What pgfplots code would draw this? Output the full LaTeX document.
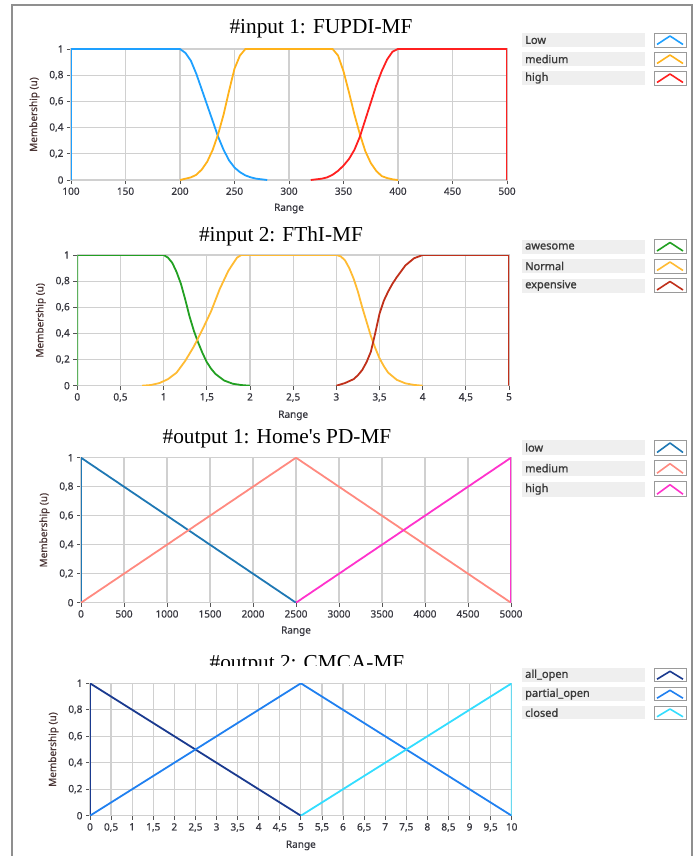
\documentclass[border=0pt]{standalone}
\usepackage{fontspec}
\setmainfont{Liberation Serif}
\newfontfamily\uifont{Noto Sans}[FakeBold=0.6]
\newfontfamily\legfont{Noto Sans}[FakeBold=1.2]
\usepackage{pgfplots}
\pgfplotsset{compat=1.18}
\definecolor{gridc}{HTML}{D0D0D0}
\definecolor{framec}{HTML}{8F8F8F}
\definecolor{tickc}{HTML}{555555}
\definecolor{labc}{HTML}{383840}
\definecolor{ylabc}{HTML}{4A3535}
\definecolor{legbg}{HTML}{EFEFEF}
\definecolor{legtxt}{HTML}{3A3A3A}
\definecolor{iconbd}{HTML}{9A9A9A}
\definecolor{aLow}{HTML}{1EA0FF}
\definecolor{aMed}{HTML}{FFB21A}
\definecolor{aHigh}{HTML}{FF2020}
\definecolor{bAwe}{HTML}{22A022}
\definecolor{bNor}{HTML}{FFBB33}
\definecolor{bExp}{HTML}{C0301A}
\definecolor{cLow}{HTML}{1F78B4}
\definecolor{cMed}{HTML}{FF8A80}
\definecolor{cHigh}{HTML}{FF33CC}
\definecolor{dAll}{HTML}{1A3A8F}
\definecolor{dPar}{HTML}{2080F0}
\definecolor{dClo}{HTML}{33DDFF}
\pgfplotsset{
  mf/.style={
    scale only axis, anchor=south west,
    ymin=0, ymax=1, ytick={0,0.2,0.4,0.6,0.8,1},
    grid=major, major grid style={draw=gridc, line width=1.2pt},
    axis line style={draw=gridc, line width=1.2pt},
    tick align=outside, major tick length=4pt,
    xtick pos=left, ytick pos=left,
    tick style={draw=tickc, line width=0.8pt},
    scaled ticks=false,
    /pgf/number format/assume math mode=true,
    /pgf/number format/use comma,
    /pgf/number format/fixed,
    /pgf/number format/precision=1,
    /pgf/number format/1000 sep={},
    xticklabel style={font=\uifont\fontsize{10}{11}\selectfont, text=labc},
    yticklabel style={font=\uifont\fontsize{10}{11}\selectfont, text=labc},
    xlabel={Range}, ylabel={Membership (u)},
    xlabel style={font=\uifont\fontsize{10}{11}\selectfont, text=labc, yshift=-2pt},
    ylabel style={font=\uifont\fontsize{10}{11}\selectfont, text=ylabc, yshift=3pt},
    every axis plot/.append style={line width=1.8pt, line join=round},
  }
}
\newcommand\legrow[4]{%
  \pgfmathsetmacro\lm{-(#1+#2)/2}%
  \pgfmathsetmacro\lt{-#1}\pgfmathsetmacro\lb{-#2}%
  \pgfmathsetmacro\ct{-#1-3}\pgfmathsetmacro\cb{-#2+2.5}%
  \fill[legbg] (522pt,\lt pt) rectangle (645pt,\lb pt);
  \node[anchor=west, inner sep=0pt, text=legtxt, font=\legfont\fontsize{11}{12}\selectfont] at (525pt,\lm pt) {#3};
  \draw[iconbd, line width=0.9pt, fill=white] (654pt,\lt pt) rectangle (686pt,\lb pt);
  \draw[#4, line width=1.6pt, line join=round] (657pt,\cb pt) -- (670pt,\ct pt) -- (683pt,\cb pt);
}
\begin{document}
\begin{tikzpicture}
\useasboundingbox (0,0) rectangle (697pt,-856pt);
\draw[framec, line width=2pt] (12pt,-856pt) -- (12pt,-5pt) -- (692pt,-5pt) -- (692pt,-856pt);

% ---------- Panel 1
\node[anchor=base, font=\fontsize{21.3}{23}\selectfont, inner sep=0pt] at (321pt,-33.5pt) {\#input 1: FUPDI-MF};
\begin{axis}[mf, at={(71pt,-180pt)}, width=436pt, height=131pt,
  xmin=100, xmax=500, xtick={100,150,200,250,300,350,400,450,500}]
\addplot[aLow] coordinates {(100,0) (100,1) (200,1) (205,0.97) (210,0.91) (215,0.81) (220,0.69) (225,0.57) (230,0.45) (235,0.33) (240,0.23) (245,0.15) (250,0.095) (255,0.06) (260,0.035) (265,0.02) (270,0.01) (280,0)};
\addplot[aMed] coordinates {(200,0) (205,0.01) (210,0.02) (215,0.04) (220,0.08) (225,0.14) (230,0.23) (235,0.35) (240,0.5) (245,0.68) (250,0.85) (255,0.95) (260,1) (340,1) (345,0.95) (350,0.83) (355,0.67) (360,0.5) (365,0.35) (370,0.22) (375,0.13) (380,0.07) (385,0.03) (390,0.015) (395,0.005) (400,0)};
\addplot[aHigh] coordinates {(320,0) (325,0.005) (330,0.01) (335,0.02) (340,0.04) (345,0.07) (350,0.11) (355,0.16) (360,0.23) (365,0.33) (370,0.46) (375,0.59) (380,0.72) (385,0.83) (390,0.92) (395,0.98) (400,1) (500,1) (500,0)};
\end{axis}
\legrow{33}{47}{Low}{aLow}
\legrow{52}{66}{medium}{aMed}
\legrow{71}{85}{high}{aHigh}

% ---------- Panel 2
\node[anchor=base, font=\fontsize{21.3}{23}\selectfont, inner sep=0pt] at (281pt,-241.7pt) {\#input 2: FThI-MF};
\begin{axis}[mf, at={(77.3pt,-385.7pt)}, width=431.7pt, height=130.7pt,
  xmin=0, xmax=5, xtick={0,0.5,1,1.5,2,2.5,3,3.5,4,4.5,5}]
\addplot[bAwe] coordinates {(0,0) (0,1) (1,1) (1.05,0.98) (1.1,0.94) (1.15,0.87) (1.2,0.78) (1.25,0.66) (1.3,0.53) (1.35,0.42) (1.4,0.33) (1.45,0.25) (1.5,0.18) (1.55,0.13) (1.6,0.09) (1.7,0.04) (1.8,0.015) (1.9,0.005) (2,0)};
\addplot[bNor] coordinates {(0.75,0) (0.85,0.005) (0.95,0.02) (1.05,0.05) (1.15,0.10) (1.25,0.19) (1.35,0.30) (1.45,0.43) (1.55,0.57) (1.65,0.74) (1.75,0.88) (1.85,0.98) (1.9,1) (3,1) (3.05,0.99) (3.1,0.96) (3.15,0.90) (3.2,0.82) (3.25,0.72) (3.3,0.60) (3.35,0.49) (3.4,0.38) (3.45,0.29) (3.5,0.21) (3.55,0.15) (3.6,0.10) (3.7,0.045) (3.8,0.018) (3.9,0.006) (4,0)};
\addplot[bExp] coordinates {(3,0) (3.1,0.02) (3.2,0.05) (3.25,0.08) (3.3,0.12) (3.35,0.18) (3.4,0.26) (3.45,0.40) (3.5,0.55) (3.55,0.65) (3.6,0.72) (3.65,0.78) (3.7,0.83) (3.8,0.92) (3.9,0.975) (4,1) (5,1) (5,0)};
\end{axis}
\legrow{239.5}{253.5}{awesome}{bAwe}
\legrow{259}{273}{Normal}{bNor}
\legrow{278.5}{292.5}{expensive}{bExp}

% ---------- Panel 3
\node[anchor=base, font=\fontsize{21.3}{23}\selectfont, inner sep=0pt] at (277pt,-443.3pt) {\#output 1: Home\textquotesingle s PD-MF};
\begin{axis}[mf, at={(81pt,-602.7pt)}, width=430pt, height=145pt,
  xmin=0, xmax=5000, xtick={0,500,1000,1500,2000,2500,3000,3500,4000,4500,5000}]
\addplot[cLow] coordinates {(0,0) (0,1) (2500,0)};
\addplot[cMed] coordinates {(0,0) (2500,1) (5000,0)};
\addplot[cHigh] coordinates {(2500,0) (5000,1) (5000,0)};
\end{axis}
\legrow{440}{455}{low}{cLow}
\legrow{460.7}{475.7}{medium}{cMed}
\legrow{481.7}{496.7}{high}{cHigh}

% ---------- Panel 4
\node[anchor=base, font=\fontsize{21.3}{23}\selectfont, inner sep=0pt] at (307pt,-669pt) {\#output 2: CMCA-MF};
\fill[white] (190pt,-666pt) rectangle (430pt,-679pt);
\begin{axis}[mf, at={(90pt,-815.7pt)}, width=421.7pt, height=132.4pt,
  xmin=0, xmax=10, xtick={0,0.5,1,1.5,2,2.5,3,3.5,4,4.5,5,5.5,6,6.5,7,7.5,8,8.5,9,9.5,10}]
\addplot[dAll] coordinates {(0,0) (0,1) (5,0)};
\addplot[dPar] coordinates {(0,0) (5,1) (10,0)};
\addplot[dClo] coordinates {(5,0) (10,1) (10,0)};
\end{axis}
\legrow{668.3}{681.7}{all\_open}{dAll}
\legrow{687.3}{700.7}{partial\_open}{dPar}
\legrow{706}{719.3}{closed}{dClo}
\end{tikzpicture}
\end{document}
